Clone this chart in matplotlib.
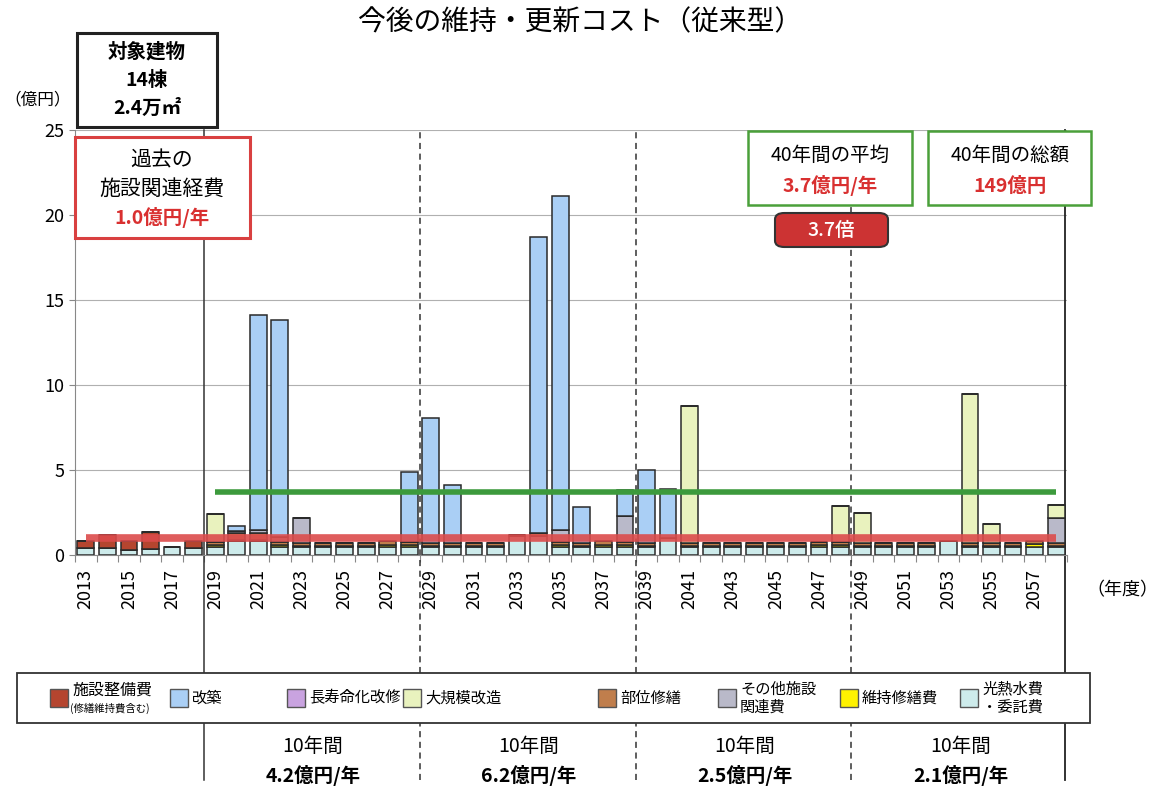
import numpy as np
import matplotlib
matplotlib.use('Agg')
import matplotlib.pyplot as plt
from matplotlib.patches import Rectangle, FancyBboxPatch

plt.rcParams['font.family'] = ['Noto Sans CJK JP', 'DejaVu Sans']

years = np.arange(2013, 2059)

# 億円 per year
kounetsu = [0.4, 0.4, 0.3, 0.35, 0.45, 0.4,
            0.5, 0.8, 0.8, 0.5, 0.45, 0.45, 0.45, 0.45, 0.5, 0.5,
            0.45, 0.45, 0.45, 0.45, 1.1, 1.1, 0.5, 0.45, 0.5, 0.5,
            0.45, 1.0, 0.45, 0.45, 0.45, 0.45, 0.45, 0.45, 0.45, 0.5,
            0.45, 0.45, 0.45, 0.45, 0.85, 0.45, 0.45, 0.45, 0.5, 0.45]
iji = [0, 0, 0, 0, 0, 0,
       0.1, 0.1, 0.1, 0.1, 0.1, 0.1, 0.1, 0.1, 0.1, 0.1,
       0.1, 0.1, 0.1, 0.1, 0, 0, 0.1, 0.1, 0.1, 0.1,
       0.1, 0, 0.1, 0.1, 0.1, 0.1, 0.1, 0.1, 0.15, 0.1,
       0.1, 0.1, 0.1, 0.1, 0, 0.1, 0.1, 0.1, 0.15, 0.1]
bui = [0, 0, 0, 0, 0, 0,
       0.15, 0.4, 0.4, 0.15, 0.15, 0.15, 0.15, 0.15, 0.2, 0.15,
       0.15, 0.15, 0.15, 0.15, 0.1, 0.2, 0.15, 0.15, 0.25, 0.15,
       0.15, 0, 0.15, 0.15, 0.15, 0.15, 0.15, 0.15, 0.15, 0.15,
       0.15, 0.15, 0.15, 0.15, 0, 0.15, 0.15, 0.15, 0.15, 0.15]
sonota = [0, 0, 0, 0, 0, 0,
          0, 0.1, 0.2, 0.3, 1.5, 0, 0, 0, 0, 0,
          0, 0, 0, 0, 0, 0, 0.7, 0, 0, 1.55,
          0, 0, 0, 0, 0, 0, 0, 0, 0, 0,
          0, 0, 0, 0, 0, 0, 0, 0, 0, 1.5]
seibi = [0.4, 0.8, 0.5, 1.0, 0.03, 0.4] + [0] * 40
daikibo = [0, 0, 0, 0, 0, 0,
           1.65, 0, 0, 0, 0, 0, 0, 0, 0, 0,
           0, 0, 0, 0, 0, 0, 0, 0, 0, 0,
           0, 0, 8.05, 0, 0, 0, 0, 0, 0, 2.15,
           1.75, 0, 0, 0, 0, 8.75, 1.15, 0, 0, 0.75]
chouju = [0] * 46
kaichiku = [0, 0, 0, 0, 0, 0,
            0, 0.3, 12.6, 12.75, 0, 0, 0, 0, 0, 4.15,
            7.35, 3.4, 0, 0, 0, 17.4, 19.65, 2.15, 0, 1.5,
            4.3, 2.9, 0, 0, 0, 0, 0, 0, 0, 0,
            0, 0, 0, 0, 0, 0, 0, 0, 0, 0]

past_avg = 1.0
future_avg = 3.7
past_start, future_start, end_year = 2013, 2019, 2058
period_bounds = [2018.5, 2028.5, 2038.5, 2048.5]
period_avgs = ['4.2', '6.2', '2.5', '2.1']

legend_labels = ['施設整備費', '改築', '長寿命化改修', '大規模改造', '部位修繕',
                 'その他施設\n関連費', '維持修繕費', '光熱水費\n・委託費']
legend_colors = ['#b5452f', '#aacff5', '#c9a3e0', '#e9f2be', '#c07e4c',
                 '#b9b9c9', '#fff200', '#cdebeb']

W, H = 1161, 794
fig = plt.figure(figsize=(W / 100, H / 100), dpi=100)
def fx(x): return x / W
def fy(y): return 1 - y / H

ax = fig.add_axes([fx(75), fy(555), fx(1067) - fx(75), fy(130) - fy(555)])

stack = [(kounetsu, '#cdebeb'), (iji, '#fff200'), (bui, '#c07e4c'),
         (sonota, '#b9b9c9'), (seibi, '#b5452f'), (daikibo, '#e9f2be'),
         (chouju, '#c9a3e0'), (kaichiku, '#aacff5')]
bottom = np.zeros(len(years))
for vals, col in stack:
    vals = np.array(vals, dtype=float)
    ax.bar(years, vals, bottom=bottom, width=0.78, color=col,
           edgecolor='#2a2a2a', linewidth=1.1, zorder=2)
    bottom += vals

ax.plot([past_start, end_year], [past_avg, past_avg], color='#dc4b4b', lw=5.5,
        alpha=0.9, solid_capstyle='butt', zorder=3)
ax.plot([future_start, end_year], [future_avg, future_avg], color='#3c9a3c', lw=4,
        solid_capstyle='butt', zorder=3)

ax.set_xlim(2012.5, 2058.4)
ax.set_ylim(0, 25)
ax.set_yticks([0, 5, 10, 15, 20, 25])
ax.yaxis.grid(True, color='#b0b0b0', lw=0.8)
ax.set_axisbelow(True)
ax.tick_params(axis='y', labelsize=13, length=4, color='#888888')
ax.set_xticks(np.arange(2012.5, 2059, 1))
ax.set_xticklabels([])
ax.tick_params(axis='x', which='major', length=5, color='#888888')
ax.set_xticks(years[::2], minor=True)
ax.set_xticklabels([str(y) for y in years[::2]], minor=True, rotation=90, fontsize=13)
ax.tick_params(axis='x', which='minor', length=0, pad=10)
ax.spines['top'].set_visible(False)
ax.spines['left'].set_color('#888888')
ax.spines['bottom'].set_color('#888888')
ax.spines['right'].set_visible(False)

# period separators extending below the axes
tr = ax.get_xaxis_transform()
low = (555 - 780) / 425
for i, xb in enumerate(period_bounds):
    ls = '-' if i == 0 else (0, (4, 3))
    ax.plot([xb, xb], [low, 1], transform=tr, color='#333333', lw=1.1, ls=ls,
            clip_on=False, zorder=1)
ax.plot([2058.4, 2058.4], [low, 1], transform=tr, color='#222222', lw=1.3,
        clip_on=False, zorder=1)

fig.text(fx(580), fy(22), '今後の維持・更新コスト（従来型）', ha='center', va='center', fontsize=20)
fig.text(fx(38), fy(100), '（億円）', ha='center', va='center', fontsize=12)
fig.text(fx(1122), fy(590), '（年度）', ha='center', va='center', fontsize=13)

def box(x0, y0, x1, y1, ec, lw=1.8):
    fig.add_artist(Rectangle((fx(x0), fy(y1)), fx(x1) - fx(x0), fy(y0) - fy(y1),
                             transform=fig.transFigure, fc='white', ec=ec, lw=lw, zorder=5))

box(77, 33, 217, 127, '#222222', 2.2)
fig.text(fx(147), fy(52), '対象建物', ha='center', va='center', fontsize=14, weight='bold', zorder=6)
fig.text(fx(147), fy(80), '14棟', ha='center', va='center', fontsize=14, weight='bold', zorder=6)
fig.text(fx(147), fy(108), '2.4万㎡', ha='center', va='center', fontsize=14, weight='bold', zorder=6)

box(75, 137, 250, 238, '#d94040', 2.2)
fig.text(fx(162), fy(160), '過去の', ha='center', va='center', fontsize=15, zorder=6)
fig.text(fx(162), fy(189), '施設関連経費', ha='center', va='center', fontsize=15, zorder=6)
fig.text(fx(162), fy(217), '1.0億円/年', ha='center', va='center', fontsize=14,
         weight='bold', color='#d93030', zorder=6)

box(748, 131, 912, 205, '#4aa03a')
fig.text(fx(830), fy(155), '40年間の平均', ha='center', va='center', fontsize=14, zorder=6)
fig.text(fx(830), fy(186), '3.7億円/年', ha='center', va='center', fontsize=14,
         weight='bold', color='#d93030', zorder=6)
box(928, 131, 1091, 205, '#4aa03a')
fig.text(fx(1010), fy(155), '40年間の総額', ha='center', va='center', fontsize=14, zorder=6)
fig.text(fx(1010), fy(186), '149億円', ha='center', va='center', fontsize=14,
         weight='bold', color='#d93030', zorder=6)

fig.add_artist(FancyBboxPatch((fx(775), fy(247)), fx(888) - fx(775), fy(213) - fy(247),
                              boxstyle='round,pad=0,rounding_size=0.008',
                              transform=fig.transFigure, fc='#cc3333', ec='#333333', lw=1.5, zorder=5))
fig.text(fx(831), fy(230), '3.7倍', ha='center', va='center', fontsize=14, color='white',
         weight='medium', zorder=6)

# legend
box(17, 673, 1090, 723, '#333333', 1.3)
patch_x = [50, 170, 287, 403, 598, 718, 840, 960]
for px, lab, col in zip(patch_x, legend_labels, legend_colors):
    fig.add_artist(Rectangle((fx(px), fy(707)), fx(18), fy(689) - fy(707),
                             transform=fig.transFigure, fc=col, ec='#555555', lw=1, zorder=6))
    if lab == '施設整備費':
        fig.text(fx(px + 22), fy(690), lab, ha='left', va='center', fontsize=11.5, zorder=7)
        fig.text(fx(px + 20), fy(708), '(修繕維持費含む)', ha='left', va='center', fontsize=7.5, zorder=7)
    else:
        fig.text(fx(px + 22), fy(698), lab, ha='left', va='center', fontsize=11,
                 linespacing=1.1, zorder=7)

for i, avg in enumerate(period_avgs):
    xc = (period_bounds[i] + (period_bounds[i + 1] if i < 3 else 2058.5)) / 2
    xp = 75 + (xc - 2012.5) / (2058.4 - 2012.5) * (1067 - 75)
    fig.text(fx(xp), fy(746), '10年間', ha='center', va='center', fontsize=14)
    fig.text(fx(xp), fy(776), avg + '億円/年', ha='center', va='center', fontsize=14, weight='bold')

fig.savefig('out.png', dpi=100)
